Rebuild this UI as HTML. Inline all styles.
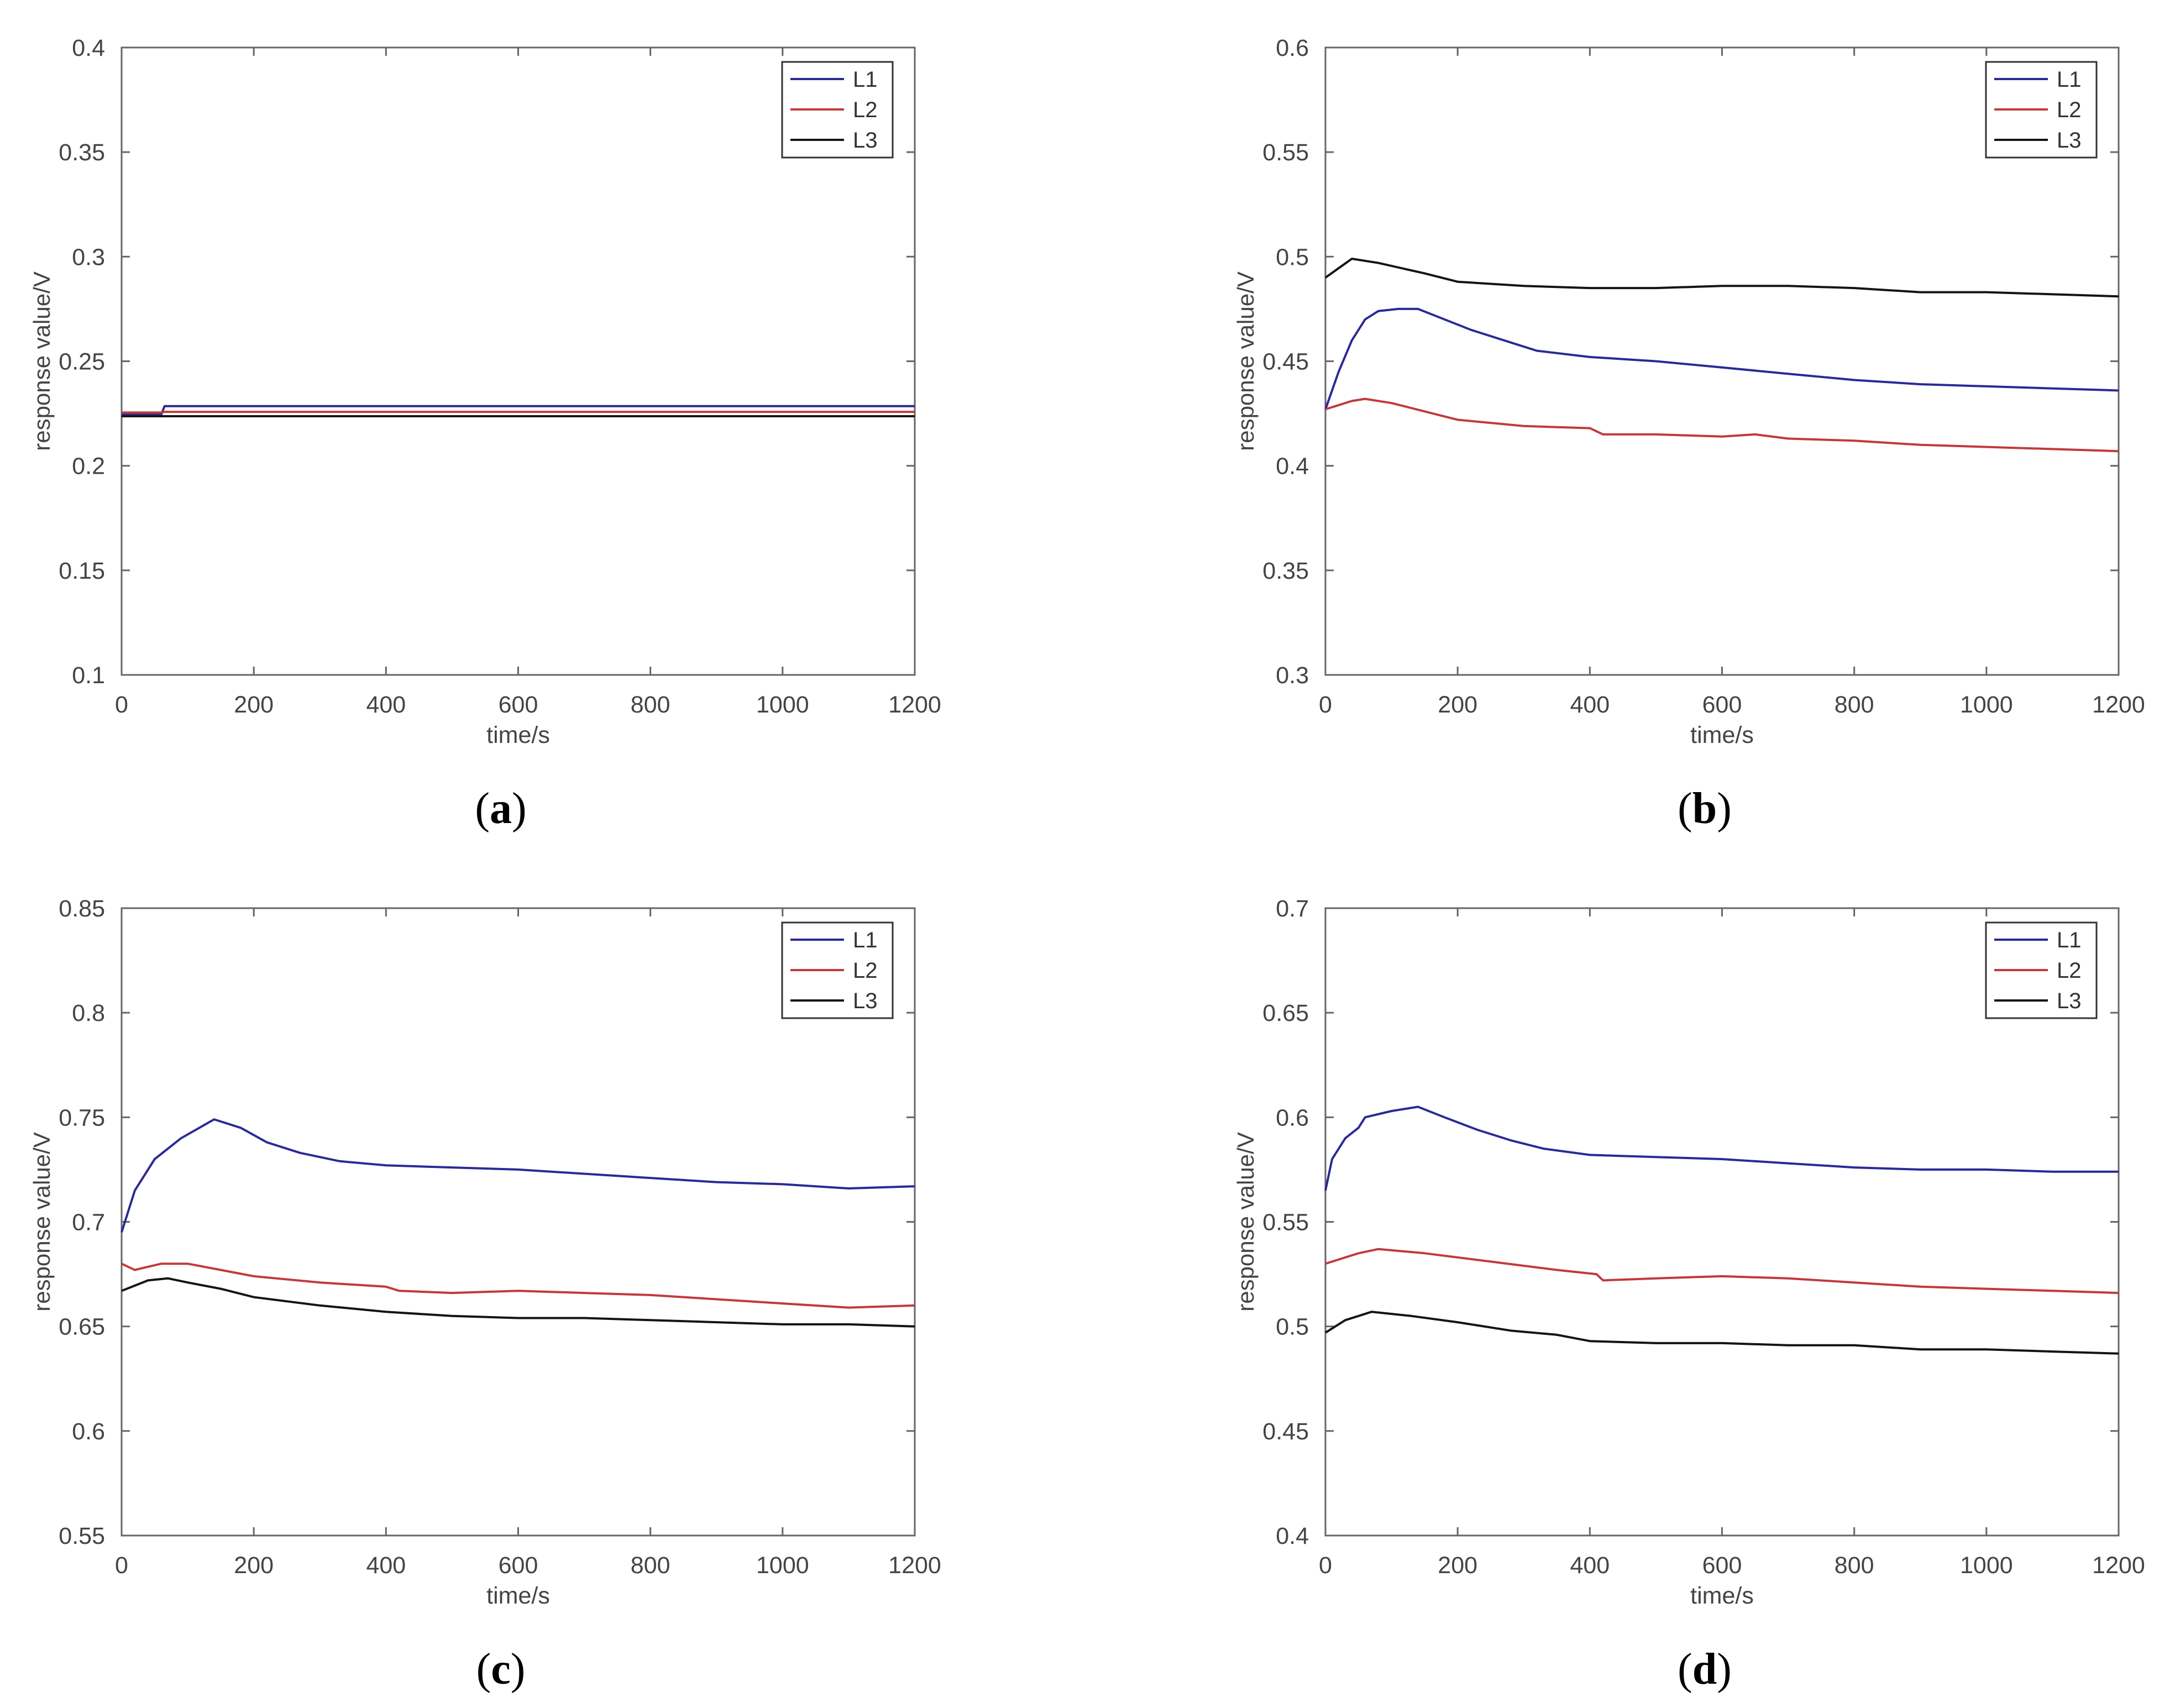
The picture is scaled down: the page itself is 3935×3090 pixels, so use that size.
<!DOCTYPE html>
<html><head><meta charset="utf-8"><style>
html,body{margin:0;padding:0;background:#fff;}
svg{display:block;font-family:"Liberation Sans",sans-serif;}
</style></head><body>
<svg id="fig" width="3935" height="3090" viewBox="0 0 3935 3090" xmlns="http://www.w3.org/2000/svg"></svg>
<script>
const xTicks=[0,200,400,600,800,1000,1200];
const aT=[0,60,65,70,1200];
const aL1=[0.2245,0.2245,0.2285,0.2285,0.2285];
const aL2=[0.2255,0.2255,0.2258,0.2258,0.2258];
const aL3=[0.2237,0.2237,0.2237,0.2237,0.2237];
const aYTicks=[0.1,0.15,0.2,0.25,0.3,0.35,0.4];
const bL1T=[0,20,40,60,80,110,140,180,220,270,320,400,500,600,700,800,900,1000,1100,1200];
const bL1=[0.427,0.445,0.46,0.47,0.474,0.475,0.475,0.47,0.465,0.46,0.455,0.452,0.45,0.447,0.444,0.441,0.439,0.438,0.437,0.436];
const bL2T=[0,40,60,100,150,200,300,400,420,500,600,650,700,800,900,1000,1100,1200];
const bL2=[0.427,0.431,0.432,0.43,0.426,0.422,0.419,0.418,0.415,0.415,0.414,0.415,0.413,0.412,0.41,0.409,0.408,0.407];
const bL3T=[0,40,80,150,200,300,400,500,600,700,800,900,1000,1100,1200];
const bL3=[0.49,0.499,0.497,0.492,0.488,0.486,0.485,0.485,0.486,0.486,0.485,0.483,0.483,0.482,0.481];
const bYTicks=[0.3,0.35,0.4,0.45,0.5,0.55,0.6];
const cL1T=[0,20,50,90,140,180,220,270,330,400,500,600,700,800,900,1000,1100,1200];
const cL1=[0.695,0.715,0.73,0.74,0.749,0.745,0.738,0.733,0.729,0.727,0.726,0.725,0.723,0.721,0.719,0.718,0.716,0.717];
const cL2T=[0,20,60,100,150,200,300,400,420,500,600,700,800,900,1000,1100,1200];
const cL2=[0.68,0.677,0.68,0.68,0.677,0.674,0.671,0.669,0.667,0.666,0.667,0.666,0.665,0.663,0.661,0.659,0.66];
const cL3T=[0,40,70,100,150,200,300,400,500,600,700,800,900,1000,1100,1200];
const cL3=[0.667,0.672,0.673,0.671,0.668,0.664,0.66,0.657,0.655,0.654,0.654,0.653,0.652,0.651,0.651,0.65];
const cYTicks=[0.55,0.6,0.65,0.7,0.75,0.8,0.85];
const dL1T=[0,10,30,50,60,100,140,180,230,280,330,400,500,600,700,800,900,1000,1100,1200];
const dL1=[0.565,0.58,0.59,0.595,0.6,0.603,0.605,0.6,0.594,0.589,0.585,0.582,0.581,0.58,0.578,0.576,0.575,0.575,0.574,0.574];
const dL2T=[0,50,80,150,250,350,410,420,500,600,700,800,900,1000,1100,1200];
const dL2=[0.53,0.535,0.537,0.535,0.531,0.527,0.525,0.522,0.523,0.524,0.523,0.521,0.519,0.518,0.517,0.516];
const dL3T=[0,30,70,130,200,280,350,400,500,600,700,800,900,1000,1100,1200];
const dL3=[0.497,0.503,0.507,0.505,0.502,0.498,0.496,0.493,0.492,0.492,0.491,0.491,0.489,0.489,0.488,0.487];
const dYTicks=[0.4,0.45,0.5,0.55,0.6,0.65,0.7];

const NS="http://www.w3.org/2000/svg";
const svg=document.getElementById('fig');
function mk(tag,attrs,parent){const e=document.createElementNS(NS,tag);for(const k in attrs)e.setAttribute(k,attrs[k]);(parent||svg).appendChild(e);return e;}
const colors={L1:'#2a2a96',L2:'#c23a3c',L3:'#141414'};
const W=1435,H=1135;
function panel(id,px,py,yTicks,series,letter,lx){
  const g=mk('g',{});
  
  
  const y0=yTicks[0],y1=yTicks[yTicks.length-1];
  const X=v=>px+v/1200*W;
  const Y=v=>py+H-(v-y0)/(y1-y0)*H;
  const fr=mk('rect',{x:px,y:py,width:W,height:H,fill:'none',stroke:'#666','stroke-width':3},g);
  
  
  xTicks.forEach(t=>{
    const x=X(t);
    mk('line',{x1:x,y1:py+H,x2:x,y2:py+H-15,stroke:'#666','stroke-width':3},g);
    mk('line',{x1:x,y1:py,x2:x,y2:py+15,stroke:'#666','stroke-width':3},g);
    const tx=mk('text',{x:x,y:py+H+68,'font-size':43,fill:'#444','text-anchor':'middle'},g);
    tx.textContent=t;
    
    
  });
  yTicks.forEach(t=>{
    const y=Y(t);
    mk('line',{x1:px,y1:y,x2:px+15,y2:y,stroke:'#666','stroke-width':3},g);
    mk('line',{x1:px+W,y1:y,x2:px+W-15,y2:y,stroke:'#666','stroke-width':3},g);
    const tx=mk('text',{x:px-30,y:y+15,'font-size':43,fill:'#444','text-anchor':'end'},g);
    tx.textContent=String(t);
    
    
  });
  const xt=mk('text',{x:px+W/2,y:py+H+123,'font-size':43,fill:'#444','text-anchor':'middle'},g);
  xt.textContent='time/s';
  
  
  const yt=mk('text',{x:0,y:0,'font-size':42,fill:'#444','text-anchor':'middle',transform:`translate(${px-130},${py+H/2}) rotate(-90)`},g);
  yt.textContent='response value/V';
  
  
  series.forEach(s=>{
    const pts=s.t.map((t,i)=>X(t).toFixed(1)+','+Y(s.v[i]).toFixed(1)).join(' ');
    const pl=mk('polyline',{points:pts,fill:'none',stroke:colors[s.n],'stroke-width':4,'stroke-linejoin':'round'},g);
    
    
  });
  const lg=mk('g',{},g);
  
  
  const bx=px+W-240,by=py+26;
  mk('rect',{x:bx,y:by,width:200,height:173,fill:'#fff',stroke:'#333','stroke-width':3},lg);
  ['L1','L2','L3'].forEach((n,i)=>{
    const y=by+31+i*55;
    const e=mk('g',{},lg);
    
    
    mk('line',{x1:bx+15,y1:y,x2:bx+112,y2:y,stroke:colors[n],'stroke-width':4},e);
    const t=mk('text',{x:bx+128,y:y+14,'font-size':40,fill:'#333'},e);
    t.textContent=n;
  });
  const lb=mk('text',{x:lx,y:py+H+268,'font-size':80,fill:'#000','text-anchor':'middle','font-family':'"Liberation Serif",serif'},g);
  
  
  lb.innerHTML='(<tspan font-weight="bold">'+letter+'</tspan>)';
}
panel('a',220,86,aYTicks,[{n:'L1',t:aT,v:aL1},{n:'L2',t:aT,v:aL2},{n:'L3',t:aT,v:aL3}],'a',906);
panel('b',2398,86,bYTicks,[{n:'L1',t:bL1T,v:bL1},{n:'L2',t:bL2T,v:bL2},{n:'L3',t:bL3T,v:bL3}],'b',3084);
panel('c',220,1643,cYTicks,[{n:'L1',t:cL1T,v:cL1},{n:'L2',t:cL2T,v:cL2},{n:'L3',t:cL3T,v:cL3}],'c',906);
panel('d',2398,1643,dYTicks,[{n:'L1',t:dL1T,v:dL1},{n:'L2',t:dL2T,v:dL2},{n:'L3',t:dL3T,v:dL3}],'d',3084);
</script>
</body></html>
